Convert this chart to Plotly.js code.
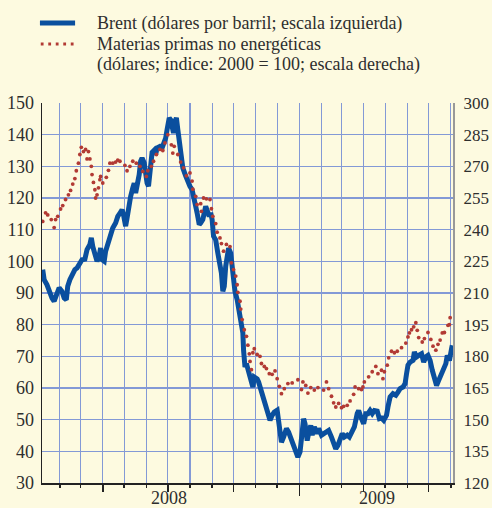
<!DOCTYPE html>
<html>
<head>
<meta charset="utf-8">
<script src="https://cdn.plot.ly/plotly-3.0.1.min.js"></script>
<style>html,body{margin:0;padding:0;background:#fdfae0;}#chart{width:492px;height:508px;}</style>
</head>
<body>
<div id="chart"></div>
<script>
// Brent (USD per barrel, left axis)
var brentDates = ['2008-01-08','2008-01-10','2008-01-14','2008-01-17','2008-01-21','2008-01-24','2008-01-28','2008-01-31','2008-02-04','2008-02-07','2008-02-10','2008-02-12','2008-02-15','2008-02-18','2008-02-22','2008-02-25','2008-02-29','2008-03-03','2008-03-07','2008-03-10','2008-03-14','2008-03-16','2008-03-18','2008-03-21','2008-03-24','2008-03-27','2008-03-29','2008-03-31','2008-04-03','2008-04-05','2008-04-08','2008-04-12','2008-04-15','2008-04-19','2008-04-22','2008-04-26','2008-04-28','2008-04-30','2008-05-03','2008-05-05','2008-05-07','2008-05-10','2008-05-13','2008-05-15','2008-05-17','2008-05-19','2008-05-22','2008-05-24','2008-05-26','2008-05-29','2008-05-31','2008-06-02','2008-06-04','2008-06-07','2008-06-09','2008-06-12','2008-06-14','2008-06-16','2008-06-20','2008-06-23','2008-06-26','2008-06-28','2008-06-30','2008-07-03','2008-07-05','2008-07-07','2008-07-09','2008-07-10','2008-07-13','2008-07-15','2008-07-17','2008-07-19','2008-07-22','2008-07-26','2008-07-29','2008-08-01','2008-08-04','2008-08-06','2008-08-09','2008-08-11','2008-08-14','2008-08-16','2008-08-19','2008-08-23','2008-08-25','2008-08-28','2008-08-30','2008-09-01','2008-09-03','2008-09-06','2008-09-09','2008-09-12','2008-09-14','2008-09-16','2008-09-18','2008-09-20','2008-09-22','2008-09-24','2008-09-27','2008-09-29','2008-10-01','2008-10-03','2008-10-06','2008-10-08','2008-10-10','2008-10-13','2008-10-14','2008-10-15','2008-10-17','2008-10-19','2008-10-21','2008-10-23','2008-10-26','2008-10-28','2008-10-30','2008-11-03','2008-11-05','2008-11-09','2008-11-12','2008-11-15','2008-11-18','2008-11-21','2008-11-24','2008-11-27','2008-12-01','2008-12-04','2008-12-07','2008-12-10','2008-12-14','2008-12-17','2008-12-20','2008-12-23','2008-12-27','2008-12-30','2009-01-02','2009-01-05','2009-01-07','2009-01-09','2009-01-12','2009-01-14','2009-01-17','2009-01-19','2009-01-22','2009-01-26','2009-01-28','2009-02-01','2009-02-04','2009-02-08','2009-02-11','2009-02-15','2009-02-18','2009-02-21','2009-02-24','2009-02-27','2009-03-02','2009-03-05','2009-03-09','2009-03-12','2009-03-16','2009-03-19','2009-03-23','2009-03-25','2009-03-29','2009-04-01','2009-04-04','2009-04-07','2009-04-10','2009-04-13','2009-04-16','2009-04-20','2009-04-23','2009-04-26','2009-04-29','2009-05-03','2009-05-05','2009-05-08','2009-05-12','2009-05-16','2009-05-19','2009-05-22','2009-05-26','2009-05-29','2009-05-31','2009-06-02','2009-06-05','2009-06-09','2009-06-11','2009-06-14','2009-06-17','2009-06-21','2009-06-24','2009-06-27','2009-06-30','2009-07-03','2009-07-06','2009-07-09','2009-07-12','2009-07-15','2009-07-19','2009-07-22','2009-07-25','2009-07-27','2009-07-30','2009-08-02','2009-08-03'];
var brentValues = [97.4,94.2,92.6,90.5,88.4,87.4,89.5,91.6,90.5,88.4,87.9,92.1,94.2,95.8,97.4,97.9,99.5,100.5,100.7,103.7,105.3,107.4,104.7,102.6,100,101.6,104.2,100.5,100,103.2,105.8,108.4,110.5,112.1,114.2,115.5,116.3,114.7,111.1,113.7,117.4,120.5,123.2,124.7,121.6,123.7,127.4,131.6,132.6,131.1,127.4,124.7,123.7,129.5,134.4,135.1,133.7,135.8,136.3,135.8,137.4,138.9,141.6,145.3,144.7,142.6,140.5,143.7,145.3,141.6,137.4,134.2,129.5,127,124.7,123.7,122.6,119.5,117.4,115.3,111.6,112.1,113.2,117.4,116.3,114.2,115.3,113.2,107.9,106.8,102.6,99.5,96.3,90.5,92.1,98.4,102.1,104.2,102.6,97.4,94.2,90.5,87.9,85.3,82.6,79.5,77.4,71.9,66.6,67.7,66.1,64,61.9,60.3,63.5,62.9,61.9,58.7,56.1,54,52.4,49.8,51.4,52.4,53,47.7,42.9,44.5,47.2,46.1,44,42.9,39.3,38.2,39.8,44.5,50.3,48.7,43.4,45.6,48.2,45.1,47.7,45.6,47.2,45.1,45.6,46.1,46.6,44.5,41.9,40.8,41.9,43.5,45.6,44.5,45.1,44.5,46.1,47.7,51.9,52.9,50.3,48.7,51.9,51.9,52.9,51.9,52.9,52.7,50.3,50.5,49.8,51.4,54,57.2,58.2,57.7,58.7,59.8,60.3,61.4,64.5,67.2,68.2,68.7,71.4,69.8,70.3,70.8,68.2,69.8,70.3,68.7,65.6,62.4,60.8,62.4,64.5,66.6,67.7,70.3,68.7,72.4,73.5];

// Non-energy commodities (USD index, 2000 = 100, right axis)
var commDates = ['2008-01-08','2008-01-12','2008-01-15','2008-01-20','2008-01-24','2008-01-26','2008-01-29','2008-02-02','2008-02-05','2008-02-09','2008-02-13','2008-02-16','2008-02-19','2008-02-22','2008-02-24','2008-02-27','2008-02-29','2008-03-02','2008-03-05','2008-03-08','2008-03-10','2008-03-12','2008-03-14','2008-03-16','2008-03-17','2008-03-19','2008-03-21','2008-03-22','2008-03-24','2008-03-26','2008-03-28','2008-03-29','2008-04-01','2008-04-06','2008-04-09','2008-04-11','2008-04-15','2008-04-19','2008-04-22','2008-04-25','2008-05-02','2008-05-05','2008-05-09','2008-05-13','2008-05-18','2008-05-23','2008-05-27','2008-06-01','2008-06-03','2008-06-08','2008-06-11','2008-06-15','2008-06-20','2008-06-24','2008-06-27','2008-07-01','2008-07-06','2008-07-08','2008-07-10','2008-07-15','2008-07-19','2008-07-23','2008-07-27','2008-08-01','2008-08-04','2008-08-05','2008-08-09','2008-08-11','2008-08-16','2008-08-17','2008-08-20','2008-08-24','2008-08-29','2008-08-31','2008-09-02','2008-09-06','2008-09-08','2008-09-12','2008-09-14','2008-09-17','2008-09-21','2008-09-26','2008-09-28','2008-10-01','2008-10-04','2008-10-06','2008-10-07','2008-10-10','2008-10-11','2008-10-13','2008-10-16','2008-10-19','2008-10-21','2008-10-23','2008-10-24','2008-10-26','2008-10-28','2008-10-30','2008-11-03','2008-11-07','2008-11-09','2008-11-13','2008-11-16','2008-11-20','2008-11-24','2008-11-28','2008-12-01','2008-12-04','2008-12-07','2008-12-11','2008-12-16','2008-12-22','2008-12-30','2009-01-04','2009-01-06','2009-01-10','2009-01-13','2009-01-17','2009-01-22','2009-01-27','2009-02-04','2009-02-08','2009-02-11','2009-02-15','2009-02-18','2009-02-21','2009-02-25','2009-03-01','2009-03-04','2009-03-09','2009-03-13','2009-03-18','2009-03-20','2009-03-25','2009-03-29','2009-03-31','2009-04-02','2009-04-08','2009-04-13','2009-04-18','2009-04-21','2009-04-26','2009-04-28','2009-04-30','2009-05-04','2009-05-06','2009-05-10','2009-05-14','2009-05-18','2009-05-24','2009-05-30','2009-06-02','2009-06-04','2009-06-07','2009-06-10','2009-06-13','2009-06-15','2009-06-17','2009-06-22','2009-06-25','2009-06-30','2009-07-04','2009-07-07','2009-07-11','2009-07-14','2009-07-17','2009-07-20','2009-07-23','2009-07-28','2009-07-30','2009-07-31'];
var commValues = [243.9,248,247,244.8,241,244.8,246.3,249.8,251.4,254.3,256.5,258.6,261.6,264.2,267.9,271.5,275.6,279,277,278,273.5,277,273.5,270,266.1,262.4,258.9,255,256.5,259.8,263.7,265.2,262.1,264.8,268.1,271.5,271.5,272,272.9,272.4,270.5,267.9,270,272.4,271.5,270,267.6,265.2,267.9,270,272.4,275.6,278,277.5,281.1,285,280.2,276.3,279.5,275.6,272,269.3,265.5,266.9,263,259.2,255.8,251.9,252.3,248.7,255,254.6,254.3,249.9,246.3,242.9,238.8,236.1,233.4,229.8,233,232,224.3,221.1,218,213.9,210.3,206.1,202.4,197.4,192.6,189.5,185.3,181.2,177.6,173.7,181.7,183.6,180.9,180,176.6,175.2,174.2,171.8,171.5,173.1,169.4,165.8,162.3,164.7,167.1,167.4,168.9,164.3,167.9,166.2,162.6,165.2,164,165.2,164,167.9,164.7,161.1,158,156,157.7,155.7,156.3,156.8,158.9,162,165.5,164.7,164.3,165.5,167.9,170.3,172.7,175.2,171.8,173.4,169.4,172.7,175.8,179.3,182.4,181.7,182.4,184.1,186.3,189.2,191.1,192.6,194,195.9,192.3,188.9,186.8,188.4,191.3,188,184.8,182.9,185.7,187.7,191.1,191.3,194.7,195,198.3];

var yearLabels = ['2008','2009'];
var yearLabelPos = ['2008-07-03','2009-04-19'];
var legendLines = ['Brent (dólares por barril; escala izquierda)',
                   'Materias primas no energéticas',
                   '(dólares; índice: 2000 = 100; escala derecha)'];

var BG = '#fdfae0', GRID = '#8399d6', FONT = 'Liberation Serif', TXT = '#2e2e2e';
var BLUE = '#0a4f9e', RED = '#b23a34';
var xRange = ['2008-01-07','2009-08-04'];

var traces = [
  {x: brentDates, y: brentValues, type: 'scatter', mode: 'lines', name: legendLines[0],
   line: {color: BLUE, width: 5}, xaxis: 'x', yaxis: 'y'},
  {x: commDates, y: commValues, type: 'scatter', mode: 'markers', name: legendLines[1],
   marker: {color: RED, size: 3.8}, xaxis: 'x', yaxis: 'y2'},
  {x: [], y: [], type: 'scatter', mode: 'lines', showlegend: false, xaxis: 'x2', yaxis: 'y', hoverinfo: 'skip'}
];

// legend drawn in paper coordinates above the plot
var legendY = [1.2105, 1.1553, 1.10];
var annotations = yearLabels.map(function (t, i) {
  return {text: t, x: yearLabelPos[i], xref: 'x', y: 0, yref: 'paper', yanchor: 'top', yshift: -3,
          showarrow: false, font: {family: FONT, size: 18, color: TXT}};
});
legendLines.forEach(function (t, i) {
  annotations.push({text: t, x: 0.129, xref: 'paper', xanchor: 'left', y: legendY[i], yref: 'paper',
                    yanchor: 'middle', showarrow: false, font: {family: FONT, size: 18, color: TXT}});
});
var shapes = [
  {type: 'line', xref: 'paper', yref: 'paper', x0: -0.005, x1: 0.0805, y0: legendY[0], y1: legendY[0],
   line: {color: BLUE, width: 5}},
  {type: 'line', xref: 'paper', yref: 'paper', x0: -0.003, x1: 0.082, y0: legendY[1], y1: legendY[1],
   line: {color: RED, width: 2.8, dash: '2.8px,4.7px'}}
];

var layout = {
  width: 492, height: 508,
  margin: {l: 42, r: 39, t: 103, b: 25, autoexpand: false},
  paper_bgcolor: BG, plot_bgcolor: BG,
  font: {family: FONT, size: 18, color: TXT},
  showlegend: false,
  xaxis: {type: 'date', range: xRange, showgrid: true, gridcolor: GRID, gridwidth: 1.2,
          tick0: '2008-01-01', dtick: 'M3', ticks: 'outside', ticklen: 7, tickwidth: 1.5, tickcolor: '#222',
          showticklabels: false, showline: true, linecolor: '#222', linewidth: 1.5, zeroline: false,
          minor: {tick0: '2008-01-01', dtick: 'M1', ticks: 'outside', ticklen: 3, tickwidth: 1.5, tickcolor: '#222',
                  showgrid: true, gridcolor: GRID, gridwidth: 1.2}},
  xaxis2: {type: 'date', range: xRange, overlaying: 'x', anchor: 'y', side: 'bottom',
           tick0: '2008-01-01', dtick: 'M12', ticks: 'outside', ticklen: 12, tickwidth: 1.5, tickcolor: '#222',
           showticklabels: false, showgrid: false, zeroline: false, showline: false},
  yaxis: {range: [30, 150], dtick: 10, showgrid: true, gridcolor: GRID, gridwidth: 1.2, zeroline: false,
          showline: true, linecolor: '#222', linewidth: 1.5, ticks: '', ticklabelstandoff: 3,
          tickfont: {family: FONT, size: 18, color: TXT}},
  yaxis2: {range: [120, 300], dtick: 15, overlaying: 'y', side: 'right', showgrid: false, zeroline: false,
           showline: true, linecolor: '#999', linewidth: 2, ticks: '', ticklabelstandoff: 5,
           tickfont: {family: FONT, size: 17, color: TXT}},
  annotations: annotations,
  shapes: shapes
};

Plotly.newPlot('chart', traces, layout, {staticPlot: true, displayModeBar: false});
</script>
</body>
</html>
